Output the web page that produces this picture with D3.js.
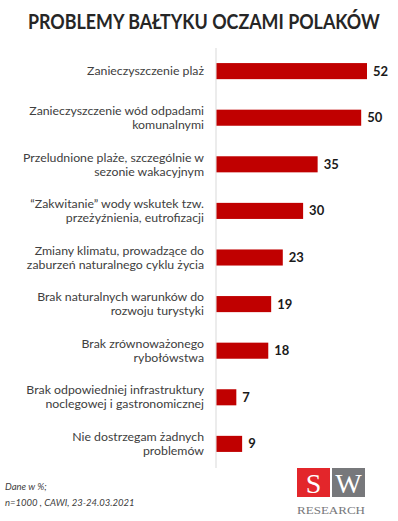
<!DOCTYPE html>
<html><head><meta charset="utf-8">
<script src="https://cdn.jsdelivr.net/npm/d3@7"></script>
<style>body{margin:0;background:#fff;}svg{display:block;}</style>
</head><body><svg id="c" width="398" height="521"></svg>
<script>
const categories = [
  ["Zanieczyszczenie plaż"],
  ["Zanieczyszczenie wód odpadami", "komunalnymi"],
  ["Przeludnione plaże, szczególnie w", "sezonie wakacyjnym"],
  ["“Zakwitanie” wody wskutek tzw.", "przeżyźnienia, eutrofizacji"],
  ["Zmiany klimatu, prowadzące do", "zaburzeń naturalnego cyklu życia"],
  ["Brak naturalnych warunków do", "rozwoju turystyki"],
  ["Brak zrównoważonego", "rybołówstwa"],
  ["Brak odpowiedniej infrastruktury", "noclegowej i gastronomicznej"],
  ["Nie dostrzegam żadnych", "problemów"]
];
const values = [52, 50, 35, 30, 23, 19, 18, 7, 9];
const title = "PROBLEMY BAŁTYKU OCZAMI POLAKÓW";
const notes = ["Dane w %;", "n=1000 , CAWI, 23-24.03.2021"];

const svg = d3.select("#c");
const FONT = "Lato, 'Open Sans', sans-serif";
const x0 = 216;
const x = d3.scaleLinear().domain([0, 52]).range([x0, 367]);
const y = d3.scaleBand().domain(d3.range(values.length)).range([47.7, 467.3]).paddingInner(0.655).paddingOuter(0.33);

const tt = svg.append("text").attr("x", 0).attr("y", 0)
  .attr("font-family", FONT).attr("font-weight", 700).attr("font-size", 20)
  .attr("fill", "#262626").text(title);
const tw = tt.node().getComputedTextLength();
tt.attr("transform", `translate(28,28.5) scale(${352 / tw},1)`);

svg.append("line").attr("x1", x0).attr("x2", x0).attr("y1", 48).attr("y2", 468)
  .attr("stroke", "#d9d9d9").attr("stroke-width", 1);

svg.selectAll("rect.bar").data(values).join("rect").attr("class", "bar")
  .attr("x", x0 + 0.5).attr("y", (d, i) => y(i))
  .attr("width", d => x(d) - x0 - 0.5).attr("height", y.bandwidth())
  .attr("fill", "#c00000");

svg.selectAll("text.val").data(values).join("text").attr("class", "val")
  .attr("x", d => x(d) + 6).attr("y", (d, i) => y(i) + y.bandwidth() / 2 + 4.5)
  .attr("font-family", FONT).attr("font-weight", 700).attr("font-size", 13)
  .attr("fill", "#1a1a1a").text(d => d);

const LH = 14;
const lab = svg.selectAll("text.lab").data(categories).join("text").attr("class", "lab")
  .attr("text-anchor", "end").attr("font-family", FONT).attr("font-size", 12.3)
  .attr("fill", "#404040");
lab.each(function(lines, i) {
  const cy = y(i) + y.bandwidth() / 2;
  const t = d3.select(this);
  const start = cy + 4.2 - (lines.length - 1) * LH / 2;
  lines.forEach((l, j) => {
    t.append("tspan").attr("x", 204).attr("y", start + j * LH).text(l);
  });
});

svg.selectAll("text.note").data(notes).join("text").attr("class", "note")
  .attr("x", 5).attr("y", (d, i) => 490 + i * 16)
  .attr("font-family", FONT).attr("font-style", "italic").attr("font-size", 9.5)
  .attr("fill", "#404040").text(d => d);

// logo
const lg = svg.append("g");
lg.append("rect").attr("x", 297).attr("y", 468).attr("width", 33).attr("height", 29).attr("fill", "#e3262b");
lg.append("rect").attr("x", 332).attr("y", 468).attr("width", 33).attr("height", 29).attr("fill", "#77787b");
lg.append("text").attr("x", 313.5).attr("y", 493).attr("text-anchor", "middle")
  .attr("font-family", "'Liberation Serif', serif").attr("font-size", 28).attr("fill", "#fff").text("S");
lg.append("text").attr("x", 348.5).attr("y", 493).attr("text-anchor", "middle")
  .attr("font-family", "'Liberation Serif', serif").attr("font-size", 28).attr("fill", "#fff").text("W");
lg.append("text").attr("x", 331).attr("y", 514).attr("text-anchor", "middle")
  .attr("font-family", "'Liberation Serif', serif").attr("font-size", 10.5).attr("fill", "#77787b")
  .attr("textLength", 68).attr("lengthAdjust", "spacingAndGlyphs").text("RESEARCH");
</script></body></html>
